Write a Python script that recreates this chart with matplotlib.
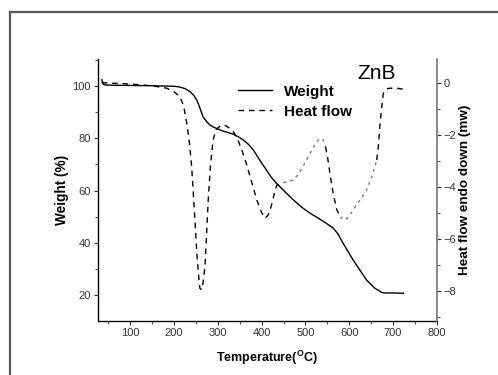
import matplotlib
matplotlib.use("Agg")
import matplotlib.pyplot as plt
from matplotlib.lines import Line2D
from matplotlib.ticker import MultipleLocator

plt.rcParams['font.family'] = ['Liberation Sans', 'DejaVu Sans']
plt.rcParams['mathtext.fontset'] = 'custom'
plt.rcParams['mathtext.rm'] = 'Liberation Sans'
plt.rcParams['mathtext.bf'] = 'Liberation Sans:bold'

# Weight (%) vs temperature
w_temp = [35, 37, 42, 60, 100, 150, 200, 213, 225, 236, 245, 252, 259, 266, 274, 282, 290, 297,
          310, 322, 335, 347, 358, 370, 381, 395, 411, 422, 434, 450, 465, 480, 495, 510, 526,
          545, 564, 575, 586, 598, 609, 625, 640, 658, 674, 682, 700, 724]
w_val = [102.3, 100.8, 100.3, 100.2, 100.1, 100.0, 99.8, 99.5, 98.9, 97.8, 96.3, 94.5, 91.5, 88.2,
         86.4, 85.0, 84.2, 83.7, 82.8, 82.2, 81.5, 80.5, 79.3, 77.6, 75.5, 71.8, 67.8, 65.1,
         62.7, 60.1, 57.6, 55.3, 53.2, 51.4, 49.8, 47.8, 45.6, 43.3, 39.9, 36.6, 33.5, 29.5,
         25.8, 22.8, 21.1, 20.9, 20.9, 20.8]

# Heat flow (mW) vs temperature
h_temp = [35, 60, 100, 150, 183, 200, 213.5, 222, 229, 235, 240, 246, 252, 256, 259, 263, 266,
          270.5, 274, 278, 283, 289, 296, 308, 318, 327, 336, 346, 355, 365, 377, 389, 399, 408,
          414, 419.5, 427, 434.5, 450, 472, 485, 495, 508, 519, 527, 534, 540, 546, 551, 556,
          564, 572, 580, 587, 597, 609, 625, 640, 652, 663, 667, 670, 674, 678, 683, 689, 705, 724]
h_val = [0.0, -0.02, -0.05, -0.12, -0.21, -0.35, -0.54, -0.9, -1.56, -2.3, -3.2, -4.8, -6.55,
         -7.4, -7.9, -7.95, -7.7, -7.07, -5.9, -4.5, -3.2, -2.2, -1.8, -1.62, -1.65, -1.75, -1.9,
         -2.2, -2.6, -3.1, -3.8, -4.5, -4.95, -5.2, -5.1, -4.9, -4.4, -3.93, -3.84, -3.74, -3.5,
         -3.2, -2.8, -2.46, -2.25, -2.14, -2.18, -2.46, -2.9, -3.48, -4.3, -4.89, -5.15, -5.27,
         -5.2, -4.89, -4.5, -4.12, -3.6, -2.97, -2.4, -1.69, -1.0, -0.41, -0.27, -0.22, -0.2,
         -0.25]

x_ticks = [100, 200, 300, 400, 500, 600, 700, 800]
y_ticks = [20, 40, 60, 80, 100]
h_ticks = [-8, -6, -4, -2, 0]

fig = plt.figure(figsize=(4.98, 3.75), dpi=100)

# outer frame (left and top only visible)
fig.add_artist(Line2D([9.5/498, 9.5/498], [0, 1 - 12/375], color='#555555', lw=1.6,
                      transform=fig.transFigure))
fig.add_artist(Line2D([9.5/498, 1], [1 - 12/375, 1 - 12/375], color='#555555', lw=1.6,
                      transform=fig.transFigure))

ax = fig.add_axes([97.7/498, 1 - 321/375, (436.7 - 97.7)/498, (321 - 59)/375])
ax2 = ax.twinx()

ln_w, = ax.plot(w_temp, w_val, color='black', lw=1.0, label='Weight')

# heat flow: dashed black, with lighter dotted-looking portions
gray_ranges = [(440, 545), (580, 655)]
def in_gray(t):
    return any(a <= t <= b for a, b in gray_ranges)

seg_t, seg_v, seg_g = [h_temp[0]], [h_val[0]], in_gray(h_temp[0])
segments = []
for t, v in zip(h_temp[1:], h_val[1:]):
    g = in_gray(t)
    seg_t.append(t); seg_v.append(v)
    if g != seg_g:
        segments.append((seg_t, seg_v, seg_g))
        seg_t, seg_v, seg_g = [t], [v], g
segments.append((seg_t, seg_v, seg_g))
for st, sv, g in segments:
    if g:
        ax2.plot(st, sv, color='#777777', lw=1.0, ls=(0, (2.0, 3.0)))
    else:
        ax2.plot(st, sv, color='black', lw=1.0, ls=(0, (4.0, 3.5)))

ax.set_xlim(25.5, 800)
ax.set_ylim(10.2, 110.2)
ax2.set_ylim(-9.15, 0.91)

ax.set_xticks(x_ticks)
ax.set_yticks(y_ticks)
ax2.set_yticks(h_ticks)
ax.xaxis.set_minor_locator(MultipleLocator(50))
ax.yaxis.set_minor_locator(MultipleLocator(10))
ax2.yaxis.set_minor_locator(MultipleLocator(1))

for a in (ax, ax2):
    a.tick_params(which='major', direction='out', length=3, width=0.8, labelsize=8,
                  colors='#333333', pad=2)
    a.tick_params(which='minor', direction='out', length=2.5, width=0.8, colors='#555555')
ax.tick_params(axis='x', which='both', top=False)
ax2.tick_params(axis='x', which='both', top=False)

ax.spines['top'].set_visible(False)
ax2.spines['top'].set_visible(False)
ax.spines['right'].set_visible(False)
ax2.spines['left'].set_visible(False)
ax2.spines['bottom'].set_visible(False)
ax2.spines['right'].set_color('#777777')
ax2.spines['right'].set_linewidth(1.2)
ax.spines['left'].set_linewidth(1.0)
ax.spines['bottom'].set_linewidth(1.0)

ax.set_ylabel('Weight (%)', fontsize=9.8, fontweight='bold', labelpad=2)
ax2.set_ylabel('Heat flow endo down (mw)', fontsize=9.7, fontweight='bold', labelpad=2)
ax.set_xlabel(r'Temperature($\mathbf{^{O}}$C)', fontsize=9, fontweight='bold', labelpad=8)

legend_handles = [Line2D([], [], color='black', lw=1.0),
                  Line2D([], [], color='black', lw=1.0, ls=(0, (4.0, 3.5)))]
ax.legend(legend_handles, ['Weight', 'Heat flow'], loc='center left', frameon=False,
          bbox_to_anchor=(0.414, 0.837), prop={'weight': 'bold', 'size': 11},
          handlelength=2.22, handletextpad=0.78, labelspacing=0.4,
          borderpad=0, borderaxespad=0)

ax.text(0.765, 0.943, 'ZnB', transform=ax.transAxes, fontsize=15, ha='left', va='center')

fig.savefig('out.png', dpi=100)
